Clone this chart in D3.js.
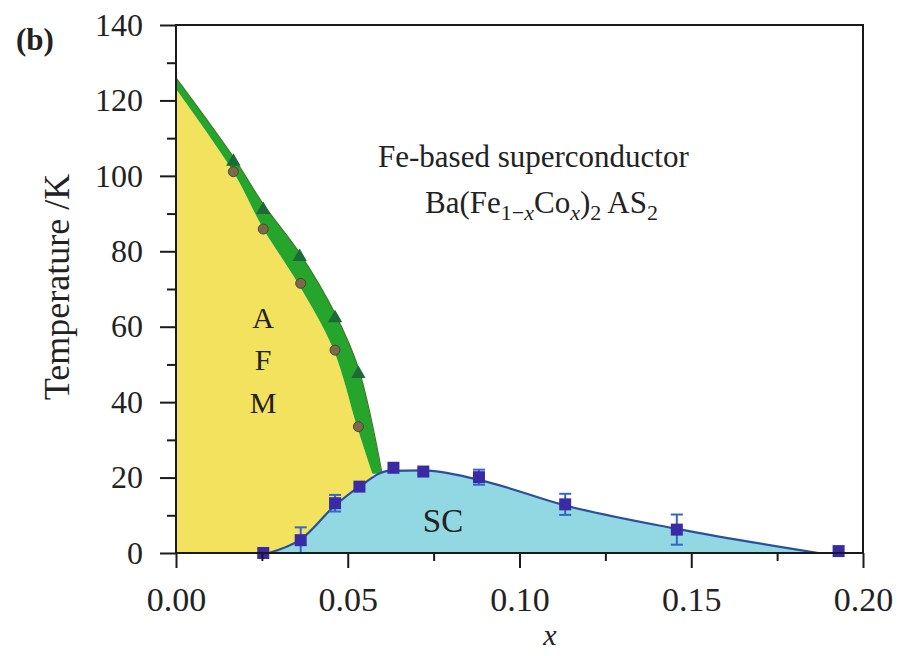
<!DOCTYPE html>
<html>
<head>
<meta charset="utf-8">
<script src="https://cdn.jsdelivr.net/npm/d3@7"></script>
<style>
  html, body { margin: 0; padding: 0; background: #fff; }
  svg text { font-family: "Liberation Serif", "Times New Roman", serif; fill: #222; }
</style>
</head>
<body>
<svg id="chart" width="903" height="656"></svg>
<script>
// Ba(Fe1-xCox)2As2 phase diagram: doping x vs temperature (K)

// Structural transition (triangles) and magnetic transition (circles)
const structX = [0.0167, 0.0254, 0.0360, 0.0463, 0.0531];
const structT = [103.8, 91.0, 78.5, 62.3, 47.5];
const magX = [0.0167, 0.0254, 0.0363, 0.0463, 0.0531];
const magT = [101.1, 85.9, 71.5, 53.8, 33.5];

// Boundary of the green (orthorhombic) band
const upperEdgeX = [0.0, 0.0167, 0.0254, 0.0360, 0.0463, 0.0531, 0.0600];
const upperEdgeT = [126.0, 105.0, 92.5, 79.5, 63.5, 49.0, 21.0];
const lowerEdgeX = [0.0, 0.0167, 0.0254, 0.0355, 0.0458, 0.0527, 0.0572];
const lowerEdgeT = [123.0, 101.0, 86.0, 71.5, 54.0, 33.5, 21.0];

// Superconducting Tc points with error bars
const scX = [0.0254, 0.0363, 0.0463, 0.0534, 0.0633, 0.0720, 0.0882, 0.1133, 0.1458, 0.1929];
const scT = [0.0, 3.4, 13.2, 17.6, 22.6, 21.6, 20.1, 12.9, 6.2, 0.5];
const scErr = [0, 3.4, 2.2, 0, 0, 0, 2.0, 2.8, 4.0, 0];

// Superconducting dome outline
const domeX = [0.0270, 0.0363, 0.0463, 0.0534, 0.0620, 0.0720, 0.0882, 0.1133, 0.1458, 0.1870];
const domeT = [0.0, 3.6, 12.6, 17.6, 21.8, 21.9, 19.4, 12.6, 6.4, 0.0];

// Axis ticks
const xMajor = [0, 0.05, 0.10, 0.15, 0.20];
const xMinor = [0.025, 0.075, 0.125, 0.175];
const yMajor = [0, 20, 40, 60, 80, 100, 120, 140];
const yMinor = [10, 30, 50, 70, 90, 110, 130];

const svg = d3.select("#chart");
const x = d3.scaleLinear().domain([0, 0.20]).range([176, 863]);
const y = d3.scaleLinear().domain([0, 140]).range([553, 25]);

const zip = (xs, ts) => xs.map((v, i) => [v, ts[i]]);
const plot = svg.append("g");
const edgeLine = d3.line().x(d => x(d[0])).y(d => y(d[1])).curve(d3.curveCatmullRom);

// AFM region (yellow): from the axis up to the magnetic boundary
const magEdge = zip(lowerEdgeX, lowerEdgeT);
const lastMagX = lowerEdgeX[lowerEdgeX.length - 1];
plot.append("path")
  .attr("d", `M${x(0)},${y(0)}` + edgeLine(magEdge).replace(/^M/, "L")
        + `L${x(lastMagX)},${y(0)}Z`)
  .attr("fill", "#f3e25e");

// Orthorhombic band (green) between the two edges
const upperEdge = zip(upperEdgeX, upperEdgeT);
const lowerRev = magEdge.slice().reverse();
plot.append("path")
  .attr("d", edgeLine(upperEdge) + edgeLine(lowerRev).replace(/^M/, "L") + "Z")
  .attr("fill", "#25a52c");
plot.append("path")
  .attr("d", edgeLine(upperEdge))
  .attr("fill", "none")
  .attr("stroke", "#3f7a2a")
  .attr("stroke-width", 1.2);

// Triangles (structural) and circles (magnetic)
plot.selectAll(".tri").data(zip(structX, structT)).join("path")
  .attr("class", "tri")
  .attr("transform", d => `translate(${x(d[0])},${y(d[1])})`)
  .attr("d", d3.symbol(d3.symbolTriangle, 90)())
  .attr("fill", "#1c6a36");
plot.selectAll(".circ").data(zip(magX, magT)).join("circle")
  .attr("class", "circ")
  .attr("cx", d => x(d[0])).attr("cy", d => y(d[1]))
  .attr("r", 5)
  .attr("fill", "#7a6b4a")
  .attr("stroke", "#4e4530")
  .attr("stroke-width", 1);

// Superconducting dome (cyan)
const dome = zip(domeX, domeT);
const domeArea = d3.area().x(d => x(d[0])).y0(y(0)).y1(d => y(d[1])).curve(d3.curveMonotoneX);
const domeLine = d3.line().x(d => x(d[0])).y(d => y(d[1])).curve(d3.curveMonotoneX);
plot.append("path").attr("d", domeArea(dome)).attr("fill", "#92d8e2");
plot.append("path").attr("d", domeLine(dome))
  .attr("fill", "none").attr("stroke", "#2b4f9c").attr("stroke-width", 2.2);

// Error bars
const scPts = scX.map((v, i) => ({ x: v, t: scT[i], e: scErr[i] })).filter(d => d.e > 0);
const eb = plot.selectAll(".eb").data(scPts).join("g").attr("class", "eb")
  .attr("stroke", "#3565c8").attr("stroke-width", 2);
eb.append("line")
  .attr("x1", d => x(d.x)).attr("x2", d => x(d.x))
  .attr("y1", d => y(d.t - d.e)).attr("y2", d => y(d.t + d.e));
eb.append("line")
  .attr("x1", d => x(d.x) - 6).attr("x2", d => x(d.x) + 6)
  .attr("y1", d => y(d.t + d.e)).attr("y2", d => y(d.t + d.e));
eb.append("line")
  .attr("x1", d => x(d.x) - 6).attr("x2", d => x(d.x) + 6)
  .attr("y1", d => y(d.t - d.e)).attr("y2", d => y(d.t - d.e));

// Squares (Tc)
plot.selectAll(".sq").data(zip(scX, scT)).join("rect")
  .attr("class", "sq")
  .attr("x", d => x(d[0]) - 6).attr("y", d => y(d[1]) - 6)
  .attr("width", 12).attr("height", 12)
  .attr("fill", "#3a2aa6");

// Frame
svg.append("rect")
  .attr("x", x(0)).attr("y", y(140))
  .attr("width", x(0.20) - x(0)).attr("height", y(0) - y(140))
  .attr("fill", "none").attr("stroke", "#1a1a1a").attr("stroke-width", 2);

// Axes
const xAxis = svg.append("g").attr("transform", `translate(0,${y(0)})`)
  .call(d3.axisBottom(x).tickValues(xMajor).tickFormat(d3.format(".2f"))
        .tickSizeInner(15).tickSizeOuter(0).tickPadding(19));
svg.append("g").attr("transform", `translate(0,${y(0)})`)
  .call(d3.axisBottom(x).tickValues(xMinor).tickFormat("")
        .tickSizeInner(8).tickSizeOuter(0));
const yAxis = svg.append("g").attr("transform", `translate(${x(0)},0)`)
  .call(d3.axisLeft(y).tickValues(yMajor)
        .tickSizeInner(16).tickSizeOuter(0).tickPadding(17));
svg.append("g").attr("transform", `translate(${x(0)},0)`)
  .call(d3.axisLeft(y).tickValues(yMinor).tickFormat("")
        .tickSizeInner(9).tickSizeOuter(0));
svg.selectAll(".domain").remove();
svg.selectAll(".tick line").attr("stroke", "#1a1a1a").attr("stroke-width", 2);
xAxis.selectAll("text").style("font-size", "34px").style("font-family", "Liberation Serif").attr("fill", "#222");
yAxis.selectAll("text").style("font-size", "32px").style("font-family", "Liberation Serif").attr("fill", "#222");

// Axis titles
svg.append("text")
  .attr("x", 550).attr("y", 645)
  .attr("text-anchor", "middle")
  .style("font-size", "30px").style("font-style", "italic")
  .text("x");
svg.append("text")
  .attr("transform", "translate(69,287) rotate(-90)")
  .attr("text-anchor", "middle")
  .style("font-size", "36px")
  .text("Temperature /K");

// Panel label
svg.append("text")
  .attr("x", 16).attr("y", 50)
  .style("font-size", "31px").style("font-weight", "bold")
  .text("(b)");

// Annotations
svg.append("text").attr("x", 378).attr("y", 167)
  .style("font-size", "31px").text("Fe-based superconductor");
const f = svg.append("text").attr("x", 425).attr("y", 213).style("font-size", "31px");
f.append("tspan").text("Ba(Fe");
f.append("tspan").attr("dy", 7).style("font-size", "22px").text("1−");
f.append("tspan").style("font-size", "22px").style("font-style", "italic").text("x");
f.append("tspan").attr("dy", -7).text("Co");
f.append("tspan").attr("dy", 7).style("font-size", "22px").style("font-style", "italic").text("x");
f.append("tspan").attr("dy", -7).text(")");
f.append("tspan").attr("dy", 7).style("font-size", "22px").text("2");
f.append("tspan").attr("dy", -7).text(" AS");
f.append("tspan").attr("dy", 7).style("font-size", "22px").text("2");

svg.append("text").attr("x", 263).attr("y", 328).attr("text-anchor", "middle").style("font-size", "30px").text("A");
svg.append("text").attr("x", 263).attr("y", 370).attr("text-anchor", "middle").style("font-size", "30px").text("F");
svg.append("text").attr("x", 263).attr("y", 413).attr("text-anchor", "middle").style("font-size", "30px").text("M");
svg.append("text").attr("x", 443).attr("y", 532).attr("text-anchor", "middle").style("font-size", "33px").text("SC");
</script>
</body>
</html>
